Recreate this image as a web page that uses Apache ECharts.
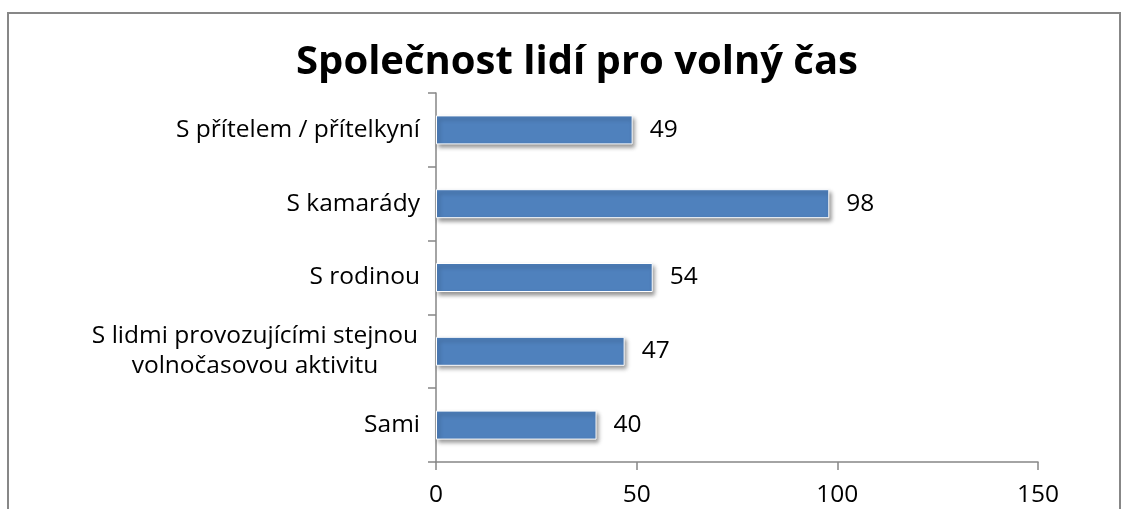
<!DOCTYPE html>
<html><head><meta charset="utf-8">
<script src="https://cdn.jsdelivr.net/npm/echarts@6/dist/echarts.min.js"></script>
<style>html,body{margin:0;padding:0;background:#fff}#c{width:1128px;height:509px}</style>
</head><body><div id="c"></div>
<script>
const titleText = 'Společnost lidí pro volný čas';
const categories = ['S přítelem / přítelkyní', 'S kamarády', 'S rodinou', 'S lidmi provozujícími stejnou\nvolnočasovou aktivitu', 'Sami'];
const values = [49, 98, 54, 47, 40];
const xTicks = [0, 50, 100, 150];

const FONT = '"Open Sans", sans-serif';
const FS = 24.5;
const chart = echarts.init(document.getElementById('c'), null, {renderer: 'canvas'});
chart.setOption({
  animation: false,
  backgroundColor: '#fff',
  title: {
    text: titleText, left: 572, top: 38, textAlign: 'center',
    textStyle: {fontFamily: FONT, fontWeight: 'bold', fontSize: 40, color: '#000'}
  },
  graphic: [{
    type: 'rect', shape: {x: 8, y: 13, width: 1112, height: 540},
    style: {fill: 'none', stroke: '#878787', lineWidth: 2}, silent: true, z: -1
  }],
  grid: {left: 436, right: 90, top: 93, bottom: 47, containLabel: false},
  xAxis: {
    type: 'value', min: xTicks[0], max: xTicks[xTicks.length - 1], interval: 50,
    splitLine: {show: false},
    axisLine: {show: true, lineStyle: {color: '#868686', width: 1.5}},
    axisTick: {show: true, length: 8, lineStyle: {color: '#868686', width: 1.5}},
    axisLabel: {fontFamily: FONT, fontSize: FS, color: '#000', margin: 21}
  },
  yAxis: {
    type: 'category', data: categories, inverse: true,
    axisLine: {show: true, lineStyle: {color: '#868686', width: 1.5}},
    axisTick: {show: true, length: 8, lineStyle: {color: '#868686', width: 1.5}},
    axisLabel: {
      fontFamily: FONT, fontSize: FS, color: '#000', margin: 16, lineHeight: 30,
      formatter: function (v) {
        if (v.indexOf('\n') >= 0) {
          return v.split('\n').map(function (l) { return '{w|' + l + '}'; }).join('\n');
        }
        return v;
      },
      rich: {w: {width: 330, align: 'center', fontFamily: FONT, fontSize: FS, color: '#000', lineHeight: 30}}
    }
  },
  series: [{
    type: 'bar', data: values, barWidth: 29,
    itemStyle: {
      color: '#4F81BD', borderColor: '#ffffff', borderWidth: 1,
      shadowColor: 'rgba(0,0,0,0.4)', shadowBlur: 4, shadowOffsetX: 2, shadowOffsetY: 3
    },
    label: {show: true, position: 'right', distance: 17, fontFamily: FONT, fontSize: FS, color: '#000'}
  }]
});
</script></body></html>
